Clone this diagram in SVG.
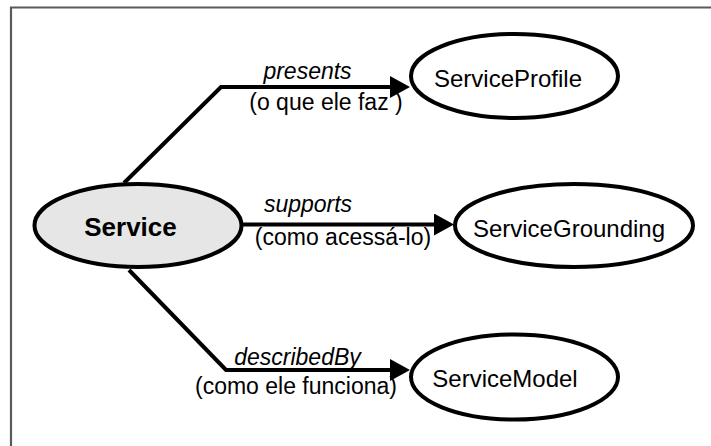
<svg xmlns="http://www.w3.org/2000/svg" width="711" height="446" viewBox="0 0 711 446">
<defs>
<style>
.node{fill:#fff;stroke:#000;stroke-width:4}
.main{fill:#e6e6e6}
.nl{font-family:"Liberation Sans",Arial,sans-serif;font-size:24px;fill:#000;text-anchor:middle}
.bold{font-weight:bold;font-size:26px}
.rel{font-family:"Liberation Sans",Arial,sans-serif;font-size:23px;fill:#000;text-anchor:middle;font-style:italic}
.sub{font-family:"Liberation Sans",Arial,sans-serif;font-size:23px;fill:#000;text-anchor:middle}
.edge{fill:none;stroke:#000;stroke-width:4;stroke-linejoin:miter}
</style>
<marker id="arr" markerUnits="userSpaceOnUse" markerWidth="20" markerHeight="22" viewBox="0 0 20 22" refX="0" refY="11" orient="auto">
<path d="M0,0 L20,11 L0,22 Z" fill="#000"/>
</marker>
</defs>
<rect width="711" height="446" fill="#fff"/>
<path d="M11,446 V7.5 H711" fill="none" stroke="#5a5a5a" stroke-width="2.2"/>
<g id="connectors">
<path class="edge" d="M124,183 L221,87 H390" marker-end="url(#arr)"/>
<path class="edge" d="M243,224.5 H434" marker-end="url(#arr)"/>
<path class="edge" d="M129,270 L226,370 H390" marker-end="url(#arr)"/>
<text class="rel" x="307.5" y="79">presents</text>
<text class="sub" x="326" y="110">(o que ele faz )</text>
<text class="rel" x="308" y="212">supports</text>
<text class="sub" x="343" y="245">(como acessá-lo)</text>
<text class="rel" x="297.5" y="365">describedBy</text>
<text class="sub" x="296" y="394">(como ele funciona)</text>
</g>
<g id="service">
<ellipse class="node main" cx="138" cy="225.5" rx="103.5" ry="41.5"/>
<text class="nl bold" x="130.5" y="236">Service</text>
</g>
<g id="serviceprofile">
<ellipse class="node" cx="514.5" cy="76" rx="103.5" ry="42"/>
<text class="nl" x="508" y="87">ServiceProfile</text>
</g>
<g id="servicegrounding">
<ellipse class="node" cx="574" cy="225.5" rx="119" ry="41.5"/>
<text class="nl" x="569" y="237">ServiceGrounding</text>
</g>
<g id="servicemodel">
<ellipse class="node" cx="514.5" cy="377" rx="103.5" ry="42.5"/>
<text class="nl" x="505" y="387">ServiceModel</text>
</g>
</svg>
